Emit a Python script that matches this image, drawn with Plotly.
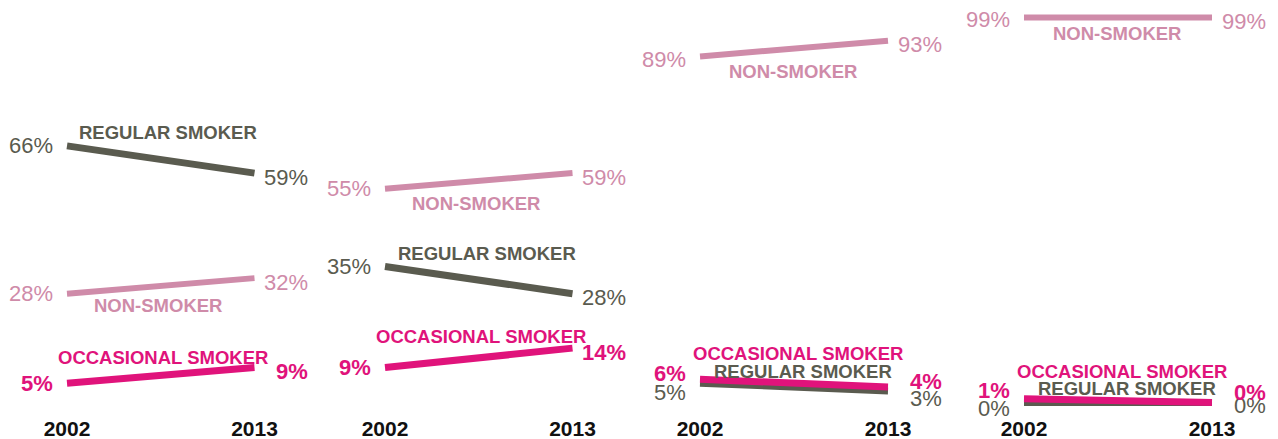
import plotly.graph_objects as go

# Survey shares (%) by smoking status, four groups, 2002 vs 2013
years = [2002, 2013]
year_labels = ["2002", "2013"]

non_smoker_2002 = [28, 55, 89, 99]
non_smoker_2013 = [32, 59, 93, 99]
regular_2002 = [66, 35, 5, 0]
regular_2013 = [59, 28, 3, 0]
occasional_2002 = [5, 9, 6, 1]
occasional_2013 = [9, 14, 4, 0]

series_names = ["NON-SMOKER", "REGULAR SMOKER", "OCCASIONAL SMOKER"]

COLORS = {
    "NON-SMOKER": "#cf8ba9",
    "REGULAR SMOKER": "#5a5b4f",
    "OCCASIONAL SMOKER": "#e0137b",
}
WIDTHS = {"NON-SMOKER": 6, "REGULAR SMOKER": 7, "OCCASIONAL SMOKER": 7}
FONT = "Liberation Sans, Arial, sans-serif"

W, H = 1278, 439

# pixel position of the 2002 / 2013 ends of each panel
panel_left = [67, 385, 700, 1024]
panel_right = [254.5, 572.5, 888, 1212]
PAD_YEARS = 0.1

# category-name offsets (px) from the middle of each line: (dx, dy down)
name_offsets = [
    {"NON-SMOKER": (-2.5, 20), "REGULAR SMOKER": (7.5, -26.5), "OCCASIONAL SMOKER": (2.5, -18)},
    {"NON-SMOKER": (-2.5, 23), "REGULAR SMOKER": (8.5, -27), "OCCASIONAL SMOKER": (2.5, -21)},
    {"NON-SMOKER": (-1.5, 23), "REGULAR SMOKER": (8.5, -16), "OCCASIONAL SMOKER": (3.5, -30)},
    {"NON-SMOKER": (-1.5, 16.5), "REGULAR SMOKER": (8.5, -14.5), "OCCASIONAL SMOKER": (3.5, -29)},
]

# vertical nudges (px, down) of value labels where they would collide
value_dy_left = {(2, "OCCASIONAL SMOKER"): -6, (2, "REGULAR SMOKER"): 9, (2, "NON-SMOKER"): 3,
                 (3, "OCCASIONAL SMOKER"): -8, (3, "REGULAR SMOKER"): 6, (3, "NON-SMOKER"): 2.5}
value_dy_right = {(2, "OCCASIONAL SMOKER"): -6, (2, "REGULAR SMOKER"): 8,
                  (3, "OCCASIONAL SMOKER"): -10, (3, "REGULAR SMOKER"): 2.5}

# shared y scale: 0% sits at y=402.6px, 3.89 px per point, axis bottom at 414px
y_bottom_px = 414
px_per_pt = 3.89
zero_px = 402.6
y_min = -(y_bottom_px - zero_px) / px_per_pt
y_max = y_min + y_bottom_px / px_per_pt

data = {
    "NON-SMOKER": (non_smoker_2002, non_smoker_2013),
    "REGULAR SMOKER": (regular_2002, regular_2013),
    "OCCASIONAL SMOKER": (occasional_2002, occasional_2013),
}

fig = go.Figure()
annotations = []
layout_axes = {}

for p in range(4):
    xname = "x" if p == 0 else f"x{p + 1}"
    axkey = "xaxis" if p == 0 else f"xaxis{p + 1}"
    span_px = panel_right[p] - panel_left[p]
    px_per_year = span_px / (years[1] - years[0])
    pad_px = PAD_YEARS * px_per_year
    layout_axes[axkey] = dict(
        domain=[(panel_left[p] - pad_px) / W, (panel_right[p] + pad_px) / W],
        range=[years[0] - PAD_YEARS, years[1] + PAD_YEARS],
        anchor="y",
        automargin=False,
        showgrid=False, zeroline=False, showline=False,
        ticks="", tickvals=years, ticktext=year_labels,
        tickfont=dict(family=FONT, size=21, color="#111111", weight="bold"),
        fixedrange=True,
    )

    for name in series_names:
        v0 = data[name][0][p]
        v1 = data[name][1][p]
        fig.add_trace(go.Scatter(
            x=years, y=[v0, v1], mode="lines", xaxis=xname, yaxis="y",
            line=dict(color=COLORS[name], width=WIDTHS[name]),
            hoverinfo="skip", showlegend=False,
        ))

        weight = "bold" if name == "OCCASIONAL SMOKER" else "normal"
        vfont = dict(family=FONT, size=22, color=COLORS[name], weight=weight)
        annotations.append(dict(
            x=years[0], y=v0, xref=xname, yref="y", text=f"{v0}%",
            showarrow=False, xanchor="right", yanchor="middle",
            xshift=-12, yshift=-value_dy_left.get((p, name), 0), font=vfont,
        ))
        annotations.append(dict(
            x=years[1], y=v1, xref=xname, yref="y", text=f"{v1}%",
            showarrow=False, xanchor="right", yanchor="middle",
            xshift=56, yshift=-value_dy_right.get((p, name), 4), font=vfont,
        ))

        dx, dy = name_offsets[p][name]
        annotations.append(dict(
            x=(years[0] + years[1]) / 2, y=(v0 + v1) / 2, xref=xname, yref="y",
            text=name, showarrow=False, xanchor="center", yanchor="middle",
            xshift=dx, yshift=-dy,
            font=dict(family=FONT, size=18.5, color=COLORS[name], weight="bold"),
        ))

fig.update_layout(
    width=W, height=H,
    margin=dict(l=0, r=0, t=0, b=0, pad=0, autoexpand=False),
    paper_bgcolor="white", plot_bgcolor="white",
    yaxis=dict(domain=[(H - y_bottom_px) / H, 1], range=[y_min, y_max],
               visible=False, fixedrange=True, automargin=False),
    annotations=annotations,
    showlegend=False,
    **layout_axes,
)

fig.write_html("out.html", config={"displayModeBar": False})
